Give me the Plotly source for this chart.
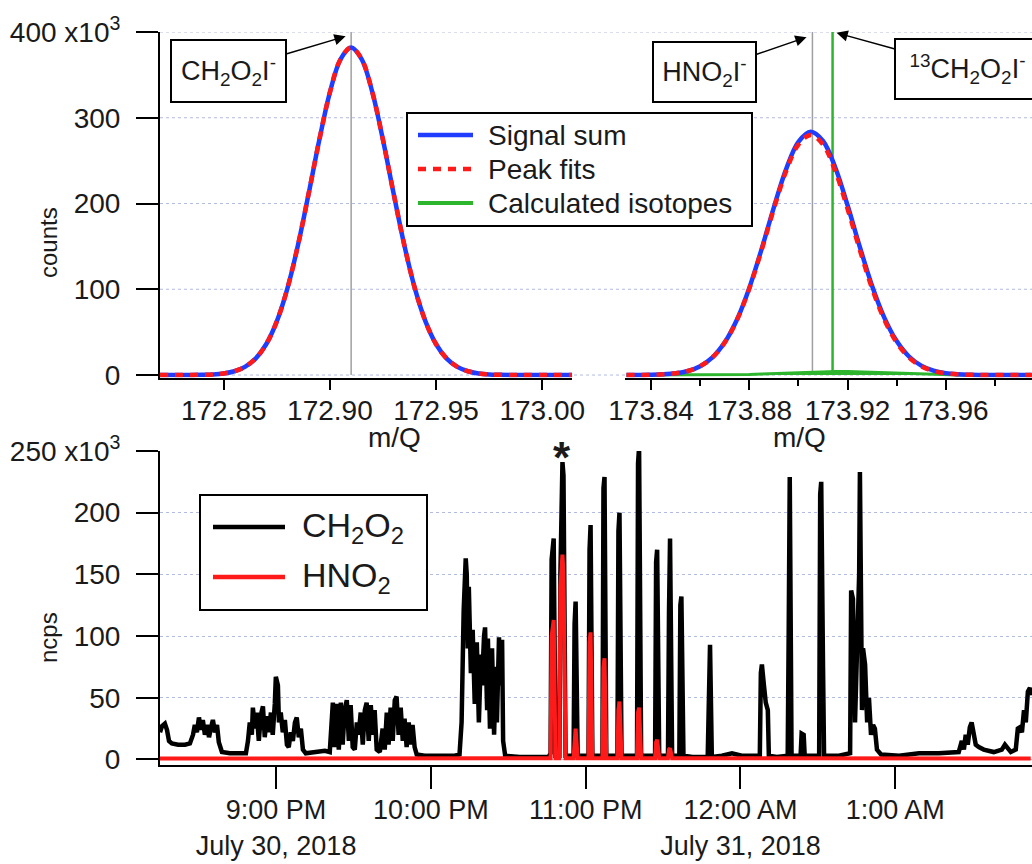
import numpy as np
import pandas as pd
import plotly.graph_objects as go

FONT = "Liberation Sans, Arial, Helvetica, sans-serif"
INK = "#1a1a1a"
BLUE = "#1f3cff"
RED = "#ff1a1a"
GREEN = "#2db52d"
GREY = "#a0a0a0"
GRID = "#b3bbe0"

# ---------------- mass spectra (m/Q vs counts) ----------------
mq_left = np.round(np.arange(172.820, 173.0151, 0.005), 3)
fit_ch2o2i = [0, 0, 0, 100, 300, 700, 1900, 4400, 9500, 19200,
              35900, 62600, 101100, 151800, 211600, 274000, 329600, 368200,
              382000,
              368200, 329600, 274000, 211600, 151800, 101100, 62600, 35900, 19200, 9500,
              4400, 1900, 700, 300, 100, 0, 0, 0, 0, 0, 0]

mq_right = np.round(np.arange(173.830, 173.9951, 0.005), 3)
fit_hno2i = [0, 100, 300, 800, 2000, 4700, 10300, 20500, 37900, 64400,
             100900, 145700, 193900, 237800, 268800,
             280000,
             268800, 237800, 193900, 145700, 100900, 64400, 37900, 20500, 10300,
             4700, 2000, 800, 300, 100, 0, 0, 0, 0]
iso_13c = [0, 0, 0, 0, 0, 0, 50, 100, 210, 400, 690, 1110, 1670, 2330, 3010, 3620, 4050,
           4200,
           4050, 3620, 3010, 2330, 1670, 1110, 690, 400, 210, 100, 50, 0, 0, 0, 0, 0]

signal_left = list(fit_ch2o2i)
signal_right = list(np.add(fit_hno2i, iso_13c))

# exact ion masses marked with sticks
mass_ch2o2i = 172.910
mass_hno2i = 173.9057
mass_13ch2o2i = 173.9139
stick_top = 400000

# ---------------- time series (minutes after 20:00, 30 July 2018; kncps) ----------------
ch2o2_points = [
    (15.0, 22), (15.8, 27), (16.9, 29), (17.7, 24), (18.5, 15), (19.6, 13), (22.0, 12), (24.7, 12),
    (26.6, 13), (27.8, 20), (28.5, 28), (29.3, 22), (30.1, 34), (30.9, 24), (31.6, 32), (32.4, 20),
    (33.2, 28), (34.0, 18), (34.8, 26), (35.5, 32), (36.3, 22), (37.1, 28), (37.8, 14), (39.0, 6),
    (42.1, 5), (46.0, 5), (48.3, 5),
    (49.1, 15), (49.8, 30), (50.6, 20), (51.0, 42), (51.8, 25), (52.5, 38), (53.3, 15), (54.1, 36),
    (54.9, 43), (55.6, 18), (56.4, 35), (57.2, 22), (58.0, 38), (58.7, 20), (59.5, 45), (59.9, 67),
    (60.7, 60), (61.1, 30), (61.8, 38), (62.6, 22), (63.4, 32), (64.2, 12), (64.9, 10), (65.7, 22),
    (66.5, 15), (67.3, 30), (68.0, 34), (68.8, 18), (69.6, 25), (70.4, 8), (71.5, 5), (75.0, 6),
    (78.9, 7), (80.8, 6),
    (81.6, 40), (82.0, 46), (82.7, 10), (83.5, 45), (84.3, 8), (85.1, 46), (85.8, 12), (86.6, 40),
    (87.4, 48), (88.2, 15), (88.9, 44), (89.7, 10), (90.5, 8), (91.3, 30), (92.0, 20), (92.8, 38),
    (93.6, 12), (94.4, 40), (95.1, 46), (95.9, 15), (96.7, 44), (97.5, 20), (98.2, 40), (99.0, 8),
    (100.2, 6), (101.3, 25), (102.1, 8), (102.9, 38), (103.6, 12), (104.4, 42), (105.2, 15),
    (106.0, 48), (106.7, 51), (107.5, 20), (108.3, 42), (109.1, 15), (109.8, 33), (110.6, 10),
    (111.4, 30), (112.2, 12), (112.9, 28), (113.7, 10), (114.5, 4), (117.6, 3), (123.4, 3),
    (129.2, 3), (131.1, 4),
    (131.9, 30), (132.7, 120), (133.5, 163), (133.9, 150), (134.3, 90), (134.7, 140), (135.5, 70),
    (136.2, 105), (137.0, 45), (137.8, 95), (138.6, 30), (139.4, 85), (139.8, 60), (140.6, 100),
    (141.0, 107), (141.8, 40), (142.1, 98), (142.9, 25), (143.7, 90), (144.5, 20), (145.2, 75),
    (145.6, 30), (146.4, 99), (146.8, 60), (147.6, 97), (148.0, 15), (148.8, 3), (154.4, 2),
    (162.1, 2), (165.6, 2),
    (166.4, 5), (166.8, 162), (167.6, 179), (168.3, 3),
    (169.8, 3), (170.2, 150), (171.0, 241), (171.4, 230), (172.2, 3),
    (175.3, 3), (175.7, 110), (176.1, 128), (176.9, 3),
    (181.1, 3), (181.5, 170), (181.9, 190), (182.6, 3),
    (186.5, 3), (186.9, 220), (187.3, 229), (188.0, 3),
    (192.3, 3), (192.7, 185), (193.1, 200), (193.9, 3),
    (199.9, 3), (200.3, 240), (200.7, 253), (201.5, 3),
    (206.9, 3), (207.3, 160), (207.7, 170), (208.5, 3),
    (211.9, 3), (212.3, 120), (212.7, 179), (213.5, 3),
    (216.3, 3), (216.7, 125), (217.1, 132), (217.9, 3),
    (221.4, 2),
    (227.3, 2), (227.8, 85), (228.2, 93), (228.9, 2),
    (232.8, 3), (236.7, 5), (240.5, 3), (246.3, 3),
    (247.5, 3), (247.9, 70), (248.3, 77), (249.1, 60), (249.8, 46), (250.6, 40), (251.0, 3),
    (254.1, 2),
    (258.3, 3), (258.7, 105), (259.1, 229), (259.8, 3),
    (263.3, 3), (263.7, 21), (264.5, 20), (264.9, 3),
    (270.5, 3), (270.9, 215), (271.3, 225), (272.0, 75), (272.4, 3),
    (278.2, 3),
    (282.5, 5), (282.9, 137), (283.6, 130), (284.4, 30), (285.2, 80), (286.0, 150), (286.3, 233),
    (287.1, 40), (287.5, 90), (288.3, 77), (289.1, 30), (289.8, 50), (290.6, 20), (291.4, 28),
    (292.1, 25), (292.9, 8), (294.5, 4),
    (301.5, 3), (309.2, 5), (316.9, 5), (324.6, 6),
    (325.8, 15), (326.6, 8), (327.3, 20), (328.1, 12), (328.9, 26), (329.6, 30), (330.4, 22),
    (331.2, 12), (332.4, 10), (334.3, 8), (338.2, 6), (341.3, 8), (342.5, 12), (343.3, 10),
    (344.8, 6), (346.7, 8), (347.5, 25), (348.3, 26), (349.1, 22), (349.9, 40), (350.6, 30),
    (351.4, 55), (352.2, 58), (352.5, 52),
]

hno2_points = [
    (15.0, 0.8), (166.0, 0.8),
    (166.4, 1), (166.8, 100), (167.6, 113), (168.3, 1),
    (169.8, 1), (170.2, 140), (171.0, 166), (171.4, 150), (172.2, 1),
    (175.3, 1), (175.7, 20), (176.1, 25), (176.9, 1),
    (181.1, 1), (181.5, 95), (181.9, 103), (182.6, 1),
    (186.5, 1), (186.9, 75), (187.3, 82), (188.0, 1),
    (192.3, 1), (192.7, 40), (193.1, 47), (193.9, 1),
    (199.9, 1), (200.3, 38), (200.7, 42), (201.5, 1),
    (206.9, 1), (207.3, 14), (207.7, 16), (208.5, 1),
    (211.9, 1), (212.3, 8), (212.7, 9), (213.5, 1),
    (352.5, 0.8),
]

t0 = pd.Timestamp("2018-07-30 20:00:00")


def to_series(points):
    minutes, kncps = zip(*points)
    times = t0 + pd.to_timedelta(list(minutes), unit="min")
    return times, [v * 1000 for v in kncps]


t_ch2o2, v_ch2o2 = to_series(ch2o2_points)
t_hno2, v_hno2 = to_series(hno2_points)

# page geometry: plot area spans 160..1032 px horizontally and 32..765 px vertically
W, H = 1032, 864
ML, MR, MT, MB = 160, 0, 32, 99
PW, PH = W - ML - MR, H - MT - MB


def px(x):
    return (x - ML) / PW


def py(y):
    return (H - MB - y) / PH


fig = go.Figure()

# ---- top: mass spectra ----
fig.add_trace(go.Scatter(x=[mass_ch2o2i, mass_ch2o2i], y=[0, stick_top], mode="lines",
                         line=dict(color=GREY, width=1.5), showlegend=False, hoverinfo="skip",
                         xaxis="x", yaxis="y"))
fig.add_trace(go.Scatter(x=[mass_hno2i, mass_hno2i], y=[0, stick_top], mode="lines",
                         line=dict(color=GREY, width=1.5), showlegend=False, hoverinfo="skip",
                         xaxis="x2", yaxis="y"))
fig.add_trace(go.Scatter(x=[mass_13ch2o2i, mass_13ch2o2i], y=[0, stick_top], mode="lines",
                         line=dict(color=GREEN, width=2.5), showlegend=False,
                         xaxis="x2", yaxis="y"))
fig.add_trace(go.Scatter(x=mq_right, y=iso_13c, mode="lines", fill="tozeroy",
                         fillcolor=GREEN, line=dict(color=GREEN, width=3),
                         showlegend=False, xaxis="x2", yaxis="y"))

fig.add_trace(go.Scatter(x=mq_left, y=signal_left, mode="lines", line=dict(color=BLUE, width=4.5, shape="spline"),
                         showlegend=False, xaxis="x", yaxis="y"))
fig.add_trace(go.Scatter(x=mq_right, y=signal_right, mode="lines", line=dict(color=BLUE, width=4.5, shape="spline"),
                         showlegend=False, xaxis="x2", yaxis="y"))
fig.add_trace(go.Scatter(x=mq_left, y=fit_ch2o2i, mode="lines",
                         line=dict(color=RED, width=4.5, dash="8px,7px", shape="spline"),
                         showlegend=False, xaxis="x", yaxis="y"))
fig.add_trace(go.Scatter(x=mq_right, y=fit_hno2i, mode="lines",
                         line=dict(color=RED, width=4.5, dash="8px,7px", shape="spline"),
                         showlegend=False, xaxis="x2", yaxis="y"))

# ---- bottom: time series ----
fig.add_trace(go.Scatter(x=t_ch2o2, y=v_ch2o2, mode="lines", line=dict(color="black", width=4.5),
                         showlegend=False, xaxis="x3", yaxis="y3"))
fig.add_trace(go.Scatter(x=t_hno2, y=v_hno2, mode="lines", line=dict(color=RED, width=4),
                         showlegend=False, xaxis="x3", yaxis="y3"))

tickfont = dict(family=FONT, size=28, color=INK)
axis_common = dict(showline=True, linecolor="black", linewidth=2, ticks="outside", tickcolor="black",
                   tickwidth=2, zeroline=False, tickfont=tickfont, layer="below traces",
                   automargin=False)

time_ticks = [pd.Timestamp("2018-07-30 21:00"), pd.Timestamp("2018-07-30 22:00"),
              pd.Timestamp("2018-07-30 23:00"), pd.Timestamp("2018-07-31 00:00"),
              pd.Timestamp("2018-07-31 01:00")]
time_labels = ["9:00 PM<br>July 30, 2018", "10:00 PM", "11:00 PM", "12:00 AM<br>July 31, 2018", "1:00 AM"]

fig.update_layout(
    width=W, height=H,
    margin=dict(l=ML, r=MR, t=MT, b=MB, autoexpand=False),
    paper_bgcolor="white", plot_bgcolor="white",
    font=dict(family=FONT, color=INK),
    showlegend=False,
    xaxis=dict(domain=[0, 0.4725], range=[172.820, 173.014], anchor="y",
               tickvals=[172.85, 172.90, 172.95, 173.00],
               ticktext=["172.85", "172.90", "172.95", "173.00"], ticklen=10,
               ticklabelstandoff=-3, showgrid=False, **axis_common),
    xaxis2=dict(domain=[0.5333, 1], range=[173.8294, 173.9951], anchor="y",
                tickvals=[173.84, 173.88, 173.92, 173.96],
                ticktext=["173.84", "173.88", "173.92", "173.96"], ticklen=10,
                ticklabelstandoff=-3, showgrid=False,
                minor=dict(tickvals=[173.86, 173.90, 173.94, 173.98], ticks="outside", ticklen=6,
                           tickwidth=2, tickcolor="black"),
                **axis_common),
    yaxis=dict(domain=[0.5285, 1], range=[-3000, 400000], anchor="x",
               tickvals=[0, 100000, 200000, 300000, 400000],
               ticktext=["0", "100", "200", "300", "400 x10<sup>3</sup>"], ticklen=22,
               ticklabelstandoff=10, showgrid=False, **axis_common),
    xaxis3=dict(domain=[0, 1], type="date", anchor="y3",
                range=["2018-07-30 20:15:00", "2018-07-31 01:53:00"],
                tickvals=time_ticks, ticktext=time_labels, ticklen=22,
                ticklabelstandoff=-2, showgrid=False,
                **{**axis_common, "tickfont": dict(family=FONT, size=27, color=INK)}),
    yaxis3=dict(domain=[0, 0.4284], range=[-4500, 250000], anchor="x3",
                tickvals=[0, 50000, 100000, 150000, 200000, 250000],
                ticktext=["0", "50", "100", "150", "200", "250 x10<sup>3</sup>"], ticklen=22,
                ticklabelstandoff=10, showgrid=True, gridcolor=GRID, griddash="dot", gridwidth=1,
                **axis_common),
)

# dotted horizontal grid across both spectrum windows
for level in [0, 100000, 200000, 300000, 400000]:
    fig.add_shape(type="line", xref="paper", yref="y", x0=0, x1=1, y0=level, y1=level,
                  line=dict(color=GRID, width=1, dash="dot"), layer="below")


def legend_box(x0, y0, x1, y1, entries, font_size, sample_x, text_x):
    fig.add_shape(type="rect", xref="paper", yref="paper", x0=px(x0), x1=px(x1), y0=py(y0), y1=py(y1),
                  line=dict(color="black", width=2), fillcolor="white", layer="above")
    for yy, label, line in entries:
        fig.add_shape(type="line", xref="paper", yref="paper", x0=px(sample_x[0]), x1=px(sample_x[1]),
                      y0=py(yy), y1=py(yy), line=line, layer="above")
        fig.add_annotation(x=px(text_x), y=py(yy), xref="paper", yref="paper", text=label,
                           xanchor="left", yanchor="middle", showarrow=False,
                           font=dict(family=FONT, size=font_size, color=INK))


legend_box(407, 113, 752, 226,
           [(135, "Signal sum", dict(color=BLUE, width=4.5)),
            (169, "Peak fits", dict(color=RED, width=4.5, dash="8px,7px")),
            (203, "Calculated isotopes", dict(color=GREEN, width=4))],
           28, (418, 473), 486)

legend_box(200, 495, 427, 610,
           [(527, "CH<sub>2</sub>O<sub>2</sub>", dict(color="black", width=4.5)),
            (577, "HNO<sub>2</sub>", dict(color=RED, width=4.5))],
           34, (213, 285), 300)

box = dict(bordercolor="black", borderwidth=2, bgcolor="white", borderpad=4,
           showarrow=True, arrowhead=2, arrowsize=1.5, arrowwidth=1.5, arrowcolor="black",
           font=dict(family=FONT, size=27, color=INK))
fig.add_annotation(x=172.9074, y=395000, xref="x", yref="y", ax=-117, ay=35, width=105, height=52,
                   text="CH<sub>2</sub>O<sub>2</sub>I<sup>-</sup>", **box)
fig.add_annotation(x=173.9033, y=394000, xref="x2", yref="y", ax=-102, ay=35, width=93, height=50,
                   text="HNO<sub>2</sub>I<sup>-</sup>", **box)
fig.add_annotation(x=173.9155, y=399000, xref="x2", yref="y", ax=131, ay=36, width=135, height=50,
                   text="<sup>13</sup>CH<sub>2</sub>O<sub>2</sub>I<sup>-</sup>", **box)

# axis titles
title_font = dict(family=FONT, size=24, color=INK)
fig.add_annotation(x=px(33), y=py(205), xref="paper", yref="paper", text="counts", textangle=-90,
                   showarrow=False, font=title_font)
fig.add_annotation(x=px(33), y=py(665), xref="paper", yref="paper", text="ncps", textangle=-90,
                   showarrow=False, font=title_font)
fig.add_annotation(x=px(366), y=py(437), xref="paper", yref="paper", text="m/Q",
                   showarrow=False, font=dict(family=FONT, size=28, color=INK))
fig.add_annotation(x=px(828), y=py(437), xref="paper", yref="paper", text="m/Q",
                   showarrow=False, font=dict(family=FONT, size=28, color=INK))

# marker above the highlighted spike
fig.add_annotation(x=pd.Timestamp("2018-07-30 22:51:00"), y=245000, xref="x3", yref="y3",
                   text="<b>*</b>", showarrow=False, yanchor="middle",
                   font=dict(family=FONT, size=44, color=INK))

fig.write_html("out.html")
